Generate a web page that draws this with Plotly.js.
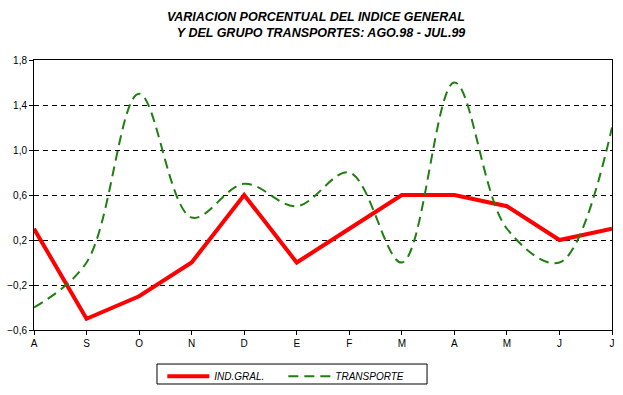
<!DOCTYPE html>
<html><head><meta charset="utf-8">
<script src="https://cdn.plot.ly/plotly-3.0.1.min.js"></script>
<style>html,body{margin:0;padding:0;background:#fff}#c{width:623px;height:395px}</style>
</head><body><div id="c"></div>
<script>
var months = ["A","S","O","N","D","E","F","M","A","M","J","J"];
var indGral = [0.3,-0.5,-0.3,0.0,0.6,0.0,0.3,0.6,0.6,0.5,0.2,0.3];
var transporte = [-0.4,0.0,1.5,0.4,0.7,0.5,0.8,0.0,1.6,0.3,0.0,1.2];
var yTicks = [-0.6,-0.2,0.2,0.6,1.0,1.4,1.8];
var xIdx = months.map(function(_,i){return i;});

var traces = [
 {x:xIdx, y:indGral, name:"IND.GRAL.", mode:"lines", line:{color:"#ff0000", width:4}},
 {x:xIdx, y:transporte, name:"TRANSPORTE", mode:"lines", line:{color:"#1f7f0f", width:2, dash:"10px,6px", shape:"spline", smoothing:1}}
];
var layout = {
 width:623, height:395,
 margin:{l:34, r:11, t:60, b:65, autoexpand:false},
 paper_bgcolor:"#fff", plot_bgcolor:"#fff",
 separators:",.",
 font:{family:"Liberation Sans, Arial, sans-serif", size:10, color:"#000"},
 title:{text:"<b><i>VARIACION PORCENTUAL DEL INDICE GENERAL<br>&nbsp;&nbsp;&nbsp;Y DEL GRUPO TRANSPORTES: AGO.98 - JUL.99</i></b>",
   font:{size:12.5}, x:0.507, xref:"container", xanchor:"center", y:0.947, yref:"container", yanchor:"top"},
 xaxis:{range:[0,11], tickvals:xIdx, ticktext:months, showgrid:false, zeroline:false,
   showline:true, linecolor:"#000", linewidth:1, mirror:true, ticks:"outside", ticklen:4, tickcolor:"#000", tickfont:{size:10}},
 yaxis:{range:[-0.6,1.8], tickvals:yTicks, tickformat:".1f", showgrid:true, gridcolor:"#000", gridwidth:1, griddash:"5px,4px",
   zeroline:false, showline:true, linecolor:"#000", linewidth:1, mirror:true, ticks:"outside", ticklen:4, tickcolor:"#000", tickfont:{size:10}},
 showlegend:true,
 legend:{orientation:"h", x:0.222, xanchor:"left", y:-0.118, yanchor:"top", borderwidth:0, bgcolor:"rgba(0,0,0,0)",
   font:{size:10, style:"italic"}, entrywidth:64, itemwidth:42, tracegroupgap:0},
 shapes:[{type:"rect", xref:"paper", yref:"paper", x0:0.2128, x1:0.680, y0:-0.2, y1:-0.126, line:{color:"#000", width:1}, fillcolor:"rgba(0,0,0,0)"}]
};
Plotly.newPlot("c", traces, layout, {displayModeBar:false, staticPlot:true});
</script></body></html>
